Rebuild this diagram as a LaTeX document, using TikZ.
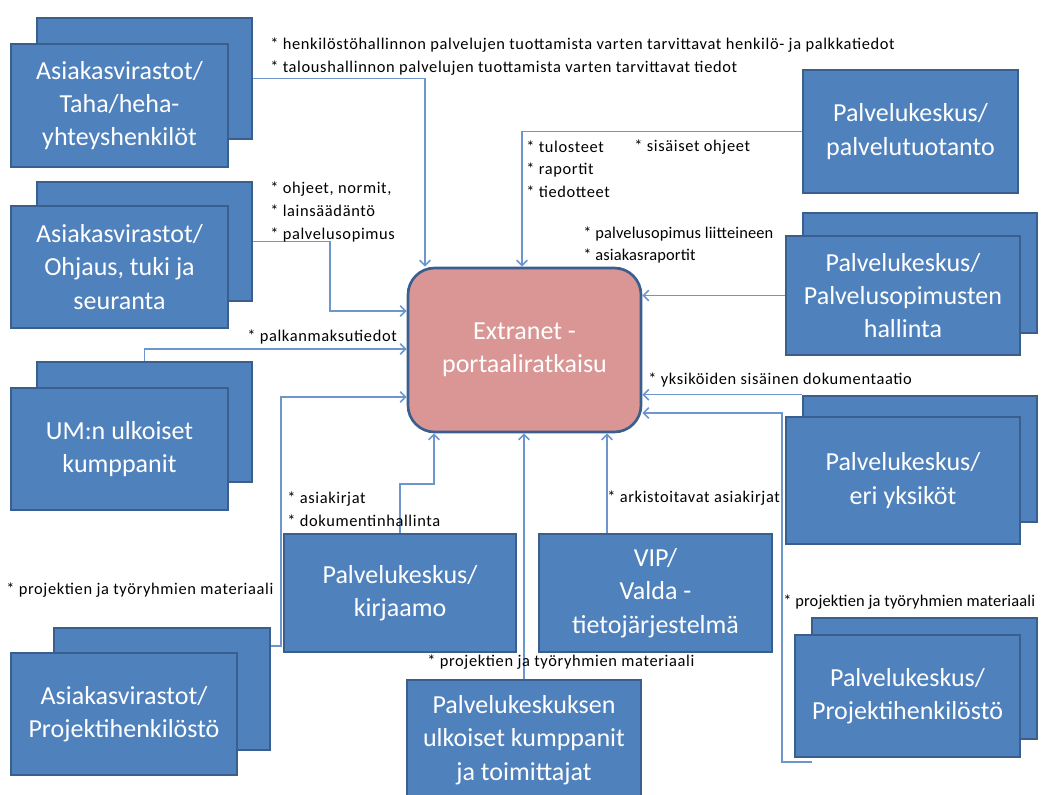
\documentclass[tikz,border=0pt]{standalone}
\usepackage{fontspec}
\setmainfont{Carlito}
\newfontfamily\notefont[LetterSpace=4]{Carlito}
\newfontfamily\tightnotefont[LetterSpace=1]{Carlito}
\usetikzlibrary{arrows.meta}
\definecolor{boxfill}{HTML}{4F81BD}
\definecolor{boxline}{HTML}{3A5F8E}
\definecolor{portalfill}{HTML}{D99694}
\definecolor{wirecol}{HTML}{6D97CC}
\begin{document}
\begin{tikzpicture}[x=0.75pt,y=-0.75pt,
  unitbox/.style={draw=boxline, line width=2pt, fill=boxfill, inner sep=0pt,
    text=white, align=center, font=\fontsize{19.5pt}{25pt}\selectfont},
  portal/.style={unitbox, fill=portalfill, rounded corners=20pt},
  flow/.style={draw=wirecol, line width=1.2pt, -{Straight Barb[length=4pt,width=8pt]}},
  note/.style={anchor=west, inner sep=0pt, align=left, text=black,
    font=\notefont\fontsize{12.3pt}{17pt}\selectfont},
  tightnote/.style={note, font=\tightnotefont\fontsize{12.3pt}{17pt}\selectfont}
]
\useasboundingbox (0,0) rectangle (1047,795);
\clip (0,0) rectangle (1047,795);

% --- back sheets of the stacked boxes
\node[unitbox, minimum width=161.25pt, minimum height=90.75pt] (tahaB) at (144.5,78.5) {};
\node[unitbox, minimum width=161.25pt, minimum height=89.25pt] (ohjB) at (144.5,241.5) {};
\node[unitbox, minimum width=161.25pt, minimum height=90pt] (umB) at (144.5,422) {};
\node[unitbox, minimum width=162pt, minimum height=91.5pt] (projLB) at (162,689) {};
\node[unitbox, minimum width=175.5pt, minimum height=90pt] (sopB) at (920,273) {};
\node[unitbox, minimum width=175.5pt, minimum height=94.5pt] (eriB) at (920,459) {};
\node[unitbox, minimum width=168.75pt, minimum height=90.75pt] (projRB) at (924.5,678.5) {};

% --- front boxes
\node[unitbox, minimum width=162.75pt, minimum height=92.25pt] (tahaF) at (119.5,105.5)
  {Asiakasvirastot/\\Taha/heha-\\yhteyshenkilöt};
\node[unitbox, minimum width=162.75pt, minimum height=91.5pt] (ohjF) at (119.5,267)
  {Asiakasvirastot/\\Ohjaus, tuki ja\\seuranta};
\node[unitbox, minimum width=162.75pt, minimum height=91.5pt] (umF) at (119.5,449)
  {UM:n ulkoiset\\kumppanit};
\node[unitbox, minimum width=169.5pt, minimum height=91.5pt] (projLF) at (124,714)
  {Asiakasvirastot/\\Projektihenkilöstö};
\node[unitbox, minimum width=161.25pt, minimum height=92.25pt] (tuo) at (910.5,131.5)
  {Palvelukeskus/\\palvelutuotanto};
\node[unitbox, minimum width=175.5pt, minimum height=89.25pt] (sopF) at (903,295.5)
  {Palvelukeskus/\\Palvelusopimusten\\hallinta};
\node[unitbox, minimum width=175.5pt, minimum height=95.25pt] (eriF) at (903,480.5)
  {Palvelukeskus/\\eri yksiköt};
\node[unitbox, minimum width=168.75pt, minimum height=91.5pt] (projRF) at (907.5,696)
  {Palvelukeskus/\\Projektihenkilöstö};
\node[unitbox, minimum width=174pt, minimum height=88.5pt] (kir) at (400,593)
  {Palvelukeskus/\\kirjaamo};
\node[unitbox, minimum width=174.75pt, minimum height=88.5pt] (vip) at (655.5,593)
  {VIP/\\Valda -\\tietojärjestelmä};
\node[unitbox, minimum width=175.5pt, minimum height=90pt] (ulk) at (524,740)
  {Palvelukeskuksen\\ulkoiset kumppanit\\ja toimittajat};

% --- the portal in the middle
\node[portal, minimum width=174.75pt, minimum height=123pt] (ext) at (524.5,350)
  {Extranet -\\portaaliratkaisu};

% --- bend points of the connectors
\coordinate (xa) at (425,0);
\coordinate (ob) at (330,311);
\coordinate (ya) at (0,349);
\coordinate (ys) at (0,646);
\coordinate (pl) at (281,397);
\coordinate (kb) at (434,484);
\coordinate (xv) at (607,0);
\coordinate (xt) at (522,0);
\coordinate (pr) at (812,762);
\coordinate (rb) at (782,413);

% --- connectors
\draw[flow] (tahaB.east) -| (xa |- ext.north);
\draw[flow] (ohjB.east) -| (ob) -- (ob -| ext.west);
\draw[flow] (umB.north) |- (ext.west |- ya);
\draw[flow] (projLB.east |- ys) -| (pl) -- (pl -| ext.west);
\draw[flow] (kir.north) |- (kb) -- (kb |- ext.south);
\draw[flow] (ulk.north) -- (ulk.north |- ext.south);
\draw[flow] (xv |- vip.north) -- (xv |- ext.south);
\draw[flow] (tuo.west) -| (xt |- ext.north);
\draw[flow] (sopF.west) -- (sopF.west -| ext.east);
\draw[flow] (eriB.north west) -- (eriB.north west -| ext.east);
\draw[flow] (pr) -| (rb) -- (rb -| ext.east);

% --- connector labels
\node[note] (n1) at (270,45) {* henkilöstöhallinnon palvelujen tuottamista varten tarvittavat henkilö- ja palkkatiedot};
\node[note] (n2) at (270,68) {* taloushallinnon palvelujen tuottamista varten tarvittavat tiedot};
\node[note] (n3) at (270,212) {* ohjeet, normit,\\* lainsäädäntö\\* palvelusopimus};
\node[note] (n4) at (247,337) {* palkanmaksutiedot};
\node[note] (n5) at (526,169) {* tulosteet\\* raportit\\* tiedotteet};
\node[note] (n6) at (634,147) {* sisäiset ohjeet};
\node[tightnote] (n7) at (583,245) {* palvelusopimus liitteineen\\* asiakasraportit};
\node[note] (n8) at (648,380) {* yksiköiden sisäinen dokumentaatio};
\node[note] (n9) at (287,509) {* asiakirjat\\* dokumentinhallinta};
\node[note] (n10) at (607,498) {* arkistoitavat asiakirjat};
\node[note] (n11) at (6,590) {* projektien ja työryhmien materiaali};
\node[note] (n12) at (427,662) {* projektien ja työryhmien materiaali};
\node[tightnote] (n13) at (783,602) {* projektien ja työryhmien materiaali};
\end{tikzpicture}
\end{document}
